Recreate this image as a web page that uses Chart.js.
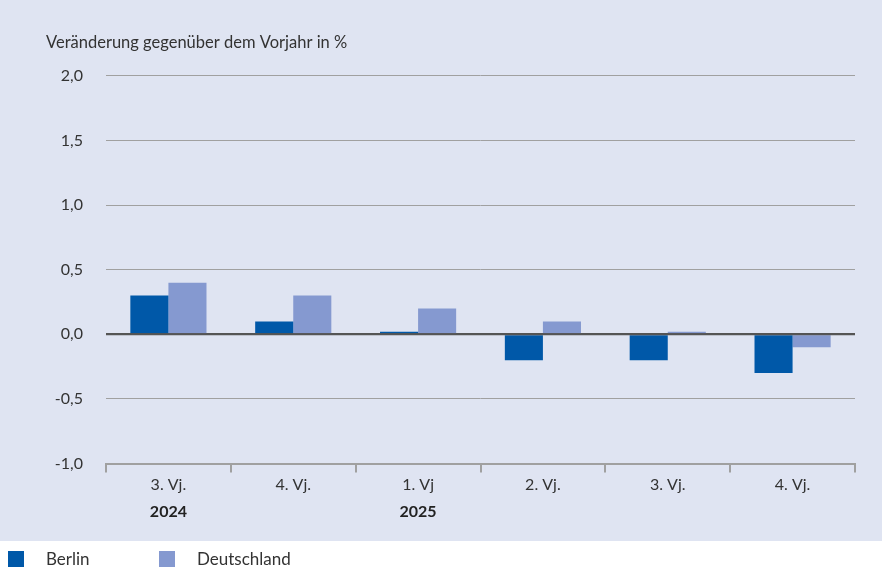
<!DOCTYPE html>
<html><head><meta charset="utf-8">
<script src="https://cdn.jsdelivr.net/npm/chart.js@4"></script>
<style>html,body{margin:0;padding:0;background:#fff}#c{display:block}</style>
</head><body>
<canvas id="c" width="882" height="572"></canvas>
<script>
const quarters = ["3. Vj.", "4. Vj.", "1. Vj", "2. Vj.", "3. Vj.", "4. Vj."];
const years = ["2024", "", "2025", "", "", ""];
const berlin = [0.3, 0.1, 0.02, -0.2, -0.2, -0.3];
const deutschland = [0.4, 0.3, 0.2, 0.1, 0.02, -0.1];
const yTicks = [2.0, 1.5, 1.0, 0.5, 0.0, -0.5, -1.0];
const axisTitle = "Veränderung gegenüber dem Vorjahr in %";

const FONT = "Lato, 'Noto Sans', sans-serif";
const TXT = "#333333";

const bgPlugin = {
  id: 'bg',
  beforeDraw(chart) {
    const ctx = chart.ctx;
    ctx.save();
    ctx.fillStyle = '#fff';
    ctx.fillRect(0, 0, chart.width, chart.height);
    ctx.fillStyle = '#DFE4F2';
    ctx.fillRect(0, 0, chart.width, 541);
    ctx.restore();
  },
  afterDatasetsDraw(chart) {
    const ctx = chart.ctx, y = chart.scales.y.getPixelForValue(0), a = chart.chartArea;
    ctx.save();
    ctx.strokeStyle = '#555555';
    ctx.lineWidth = 2;
    ctx.beginPath(); ctx.moveTo(a.left, y); ctx.lineTo(a.right, y); ctx.stroke();
    ctx.restore();
  },
  afterDraw(chart) {
    const ctx = chart.ctx;
    ctx.save();
    const xs = [[8, 46], [159, 197]];
    chart.data.datasets.forEach((ds, i) => {
      ctx.fillStyle = ds.backgroundColor;
      ctx.fillRect(xs[i][0], 551, 16, 16);
      ctx.fillStyle = TXT;
      ctx.font = "17px " + FONT;
      ctx.textBaseline = 'middle';
      ctx.fillText(ds.label, xs[i][1], 560);
    });
    ctx.restore();
  }
};

new Chart(document.getElementById('c'), {
  type: 'bar',
  data: {
    labels: quarters,
    datasets: [
      { label: 'Berlin', data: berlin, backgroundColor: '#0058A8', xAxisID: 'x' },
      { label: 'Deutschland', data: deutschland, backgroundColor: '#8599D0', xAxisID: 'x' }
    ]
  },
  options: {
    responsive: false,
    animation: false,
    devicePixelRatio: 1,
    categoryPercentage: 0.61,
    barPercentage: 1.0,
    layout: { padding: { left: 46, right: 27, top: 0, bottom: 47 } },
    plugins: {
      legend: { display: false },
      tooltip: { enabled: false },
      title: {
        display: true, text: axisTitle, align: 'start', color: TXT,
        font: { family: FONT, size: 16.5, weight: 'normal' },
        padding: { top: 33, bottom: 23 }
      }
    },
    scales: {
      y: {
        min: -1, max: 2,
        afterBuildTicks(s) { s.ticks = yTicks.map(v => ({ value: v })); },
        afterFit(s) { s.width = 60; },
        border: { display: false },
        grid: {
          drawTicks: false,
          color: ctx => (ctx.tick && ctx.tick.value === 0) ? '#555555' : '#A0A0A0',
          lineWidth: ctx => (ctx.tick && ctx.tick.value === 0) ? 2 : 1
        },
        ticks: {
          color: TXT, padding: 23,
          font: { family: FONT, size: 16 },
          callback: v => v.toFixed(1).replace('.', ',')
        }
      },
      x: {
        position: 'bottom',
        border: { display: true, color: '#A0A0A0', width: 2 },
        grid: { drawOnChartArea: false, drawTicks: true, tickLength: 9, color: '#A0A0A0', lineWidth: 2, offset: true },
        ticks: { color: TXT, padding: 3, font: { family: FONT, size: 16 } }
      },
      x2: {
        type: 'category',
        labels: years,
        position: 'bottom',
        offset: true,
        border: { display: false },
        grid: { display: false, drawTicks: false },
        ticks: { color: '#222', padding: 4, font: { family: FONT, size: 16, weight: 'bold' }, autoSkip: false }
      }
    }
  },
  plugins: [bgPlugin]
});
</script>
</body></html>
